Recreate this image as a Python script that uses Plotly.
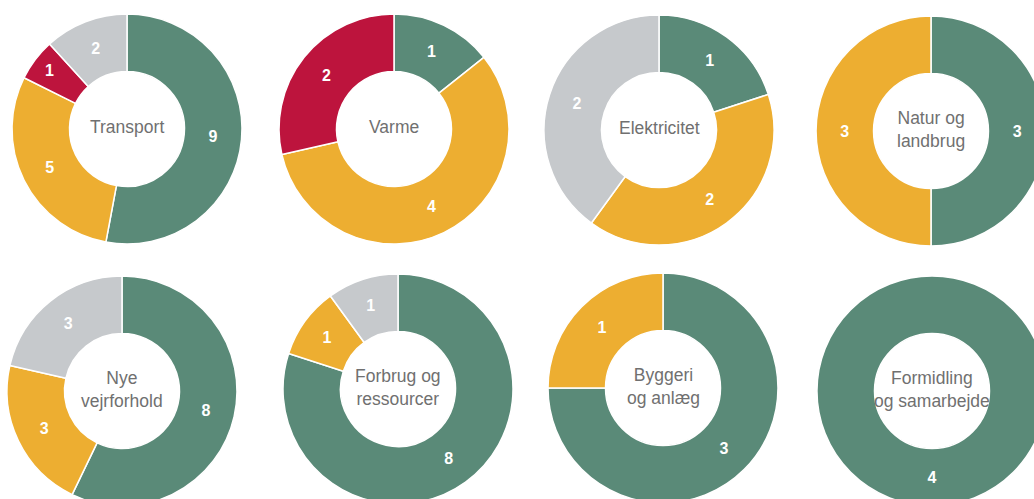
import plotly.graph_objects as go

# ---- data ----
categories = ["Transport", "Varme", "Elektricitet", "Natur og<br>landbrug",
              "Nye<br>vejrforhold", "Forbrug og<br>ressourcer", "Byggeri<br>og anlæg",
              "Formidling<br>og samarbejde"]
segment_names = ["Grøn", "Gul", "Rød", "Grå"]
green_values = [9, 1, 1, 3, 8, 8, 3, 4]
yellow_values = [5, 4, 2, 3, 3, 1, 1, 0]
red_values = [1, 2, 0, 0, 0, 0, 0, 0]
grey_values = [2, 0, 2, 0, 3, 1, 0, 0]

colors = {"Grøn": "#5a8a78", "Gul": "#edae31", "Rød": "#bd143d", "Grå": "#c6c9cc"}

# ---- layout geometry (pixels) ----
W, H = 1060, 520
R = 115
centers = [(127, 129), (394, 129), (659, 130), (931, 131),
           (122, 391), (398, 389), (663, 388), (932, 391)]

fig = go.Figure()
for i, cat in enumerate(categories):
    vals_all = [green_values[i], yellow_values[i], red_values[i], grey_values[i]]
    labels = [n for n, v in zip(segment_names, vals_all) if v > 0]
    vals = [v for v in vals_all if v > 0]
    cx, cy = centers[i]
    dom_x = [(cx - R) / W, (cx + R) / W]
    dom_y = [(H - (cy + R)) / H, (H - (cy - R)) / H]
    fig.add_trace(go.Pie(
        labels=labels, values=vals, hole=0.5, sort=False, direction="clockwise",
        rotation=0, textinfo="value", textposition="inside",
        insidetextorientation="horizontal",
        textfont=dict(color="white", size=16, family="Liberation Sans Narrow, Liberation Sans",
                      weight="bold"),
        marker=dict(colors=[colors[l] for l in labels], line=dict(color="white", width=1.5)),
        domain=dict(x=dom_x, y=dom_y), showlegend=False, hoverinfo="label+value",
        name=cat.replace("<br>", " "),
    ))
    fig.add_annotation(x=cx / W, y=(H - cy + 2) / H, xref="paper", yref="paper",
                       xanchor="center", yanchor="middle",
                       text=cat, showarrow=False,
                       font=dict(size=17.5, color="#707070", family="Liberation Sans"))

fig.update_layout(width=W, height=H, margin=dict(l=0, r=0, t=0, b=0),
                  paper_bgcolor="white", plot_bgcolor="white")

fig.write_html("out.html", config={"displayModeBar": False},
               post_script="document.body.style.margin='0';document.body.style.overflow='hidden';document.documentElement.style.overflow='hidden';")
